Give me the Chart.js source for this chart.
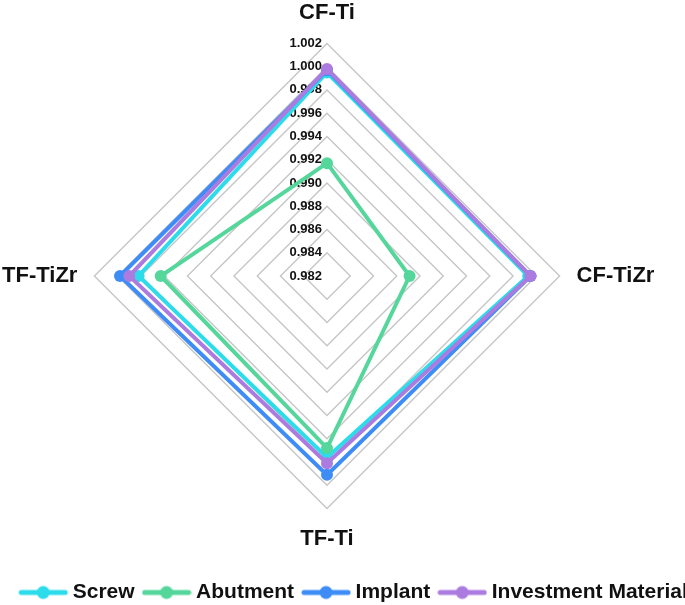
<!DOCTYPE html>
<html>
<head>
<meta charset="utf-8">
<script src="https://cdn.jsdelivr.net/npm/chart.js@4.4.1/dist/chart.umd.min.js"></script>
<style>
  html, body { margin: 0; padding: 0; background: #fff; }
  #wrap { width: 685px; height: 605px; }
</style>
</head>
<body>
<div id="wrap"><canvas id="radar-chart"></canvas></div>
<script>
const axes = ["CF-Ti", "CF-TiZr", "TF-Ti", "TF-TiZr"];
const screw = [0.9995, 0.9993, 0.9976, 0.9982];
const abutment = [0.9917, 0.9891, 0.9968, 0.9963];
const implant = [0.9997, 0.9995, 0.9991, 0.9998];
const investment = [0.9998, 0.9995, 0.9981, 0.9990];
const tickValues = [0.982, 0.984, 0.986, 0.988, 0.990, 0.992, 0.994, 0.996, 0.998, 1.000, 1.002];

const colors = ["#2ddcea", "#55d69b", "#3e8cf6", "#ac7be0"];
const font = "'Liberation Sans', Arial, sans-serif";

// little line + dot symbol for the legend
function legendIcon(color) {
  const c = document.createElement("canvas");
  c.width = 50; c.height = 16;
  const ctx = c.getContext("2d");
  ctx.strokeStyle = color;
  ctx.lineWidth = 5;
  ctx.lineCap = "round";
  ctx.beginPath(); ctx.moveTo(3, 8); ctx.lineTo(47, 8); ctx.stroke();
  ctx.fillStyle = color;
  ctx.beginPath(); ctx.arc(25, 8, 6.5, 0, Math.PI * 2); ctx.fill();
  return c;
}
const icons = colors.map(legendIcon);

// tick labels sit left of the vertical axis, under the lines
const tickLabels = {
  id: "tickLabels",
  beforeDatasetsDraw(chart) {
    const r = chart.scales.r;
    const ctx = chart.ctx;
    ctx.save();
    ctx.font = "bold 13px " + font;
    ctx.fillStyle = "#111";
    ctx.textAlign = "right";
    ctx.textBaseline = "middle";
    tickValues.forEach(v => {
      const d = r.getDistanceFromCenterForValue(v);
      ctx.fillText(v.toFixed(3), r.xCenter - 5, r.yCenter - d);
    });
    ctx.restore();
  }
};

// nudge the legend row like the original
const legendShift = {
  id: "legendShift",
  afterLayout(chart) {
    const lg = chart.legend;
    lg.left += 43; lg.right += 43;
    lg.top += 16; lg.bottom += 16;
  }
};

function series(label, data, i) {
  return {
    label: label,
    data: data,
    borderColor: colors[i],
    backgroundColor: colors[i],
    pointBackgroundColor: colors[i],
    pointBorderWidth: 0,
    pointRadius: 6,
    borderWidth: 4,
    fill: false,
    order: 3 - i
  };
}

new Chart(document.getElementById("radar-chart"), {
  type: "radar",
  data: {
    labels: axes,
    datasets: [
      series("Screw", screw, 0),
      series("Abutment", abutment, 1),
      series("Implant", implant, 2),
      series("Investment Material", investment, 3)
    ]
  },
  options: {
    responsive: true,
    maintainAspectRatio: false,
    animation: false,
    layout: { padding: { left: -32, right: 27, top: -2, bottom: 8 } },
    scales: {
      r: {
        min: 0.982,
        max: 1.002,
        ticks: { display: false, stepSize: 0.002 },
        grid: { color: "#c6c6c6", lineWidth: 1.4 },
        angleLines: { display: false },
        pointLabels: {
          padding: 17,
          color: "#111",
          font: { family: font, size: 22, weight: "bold" }
        }
      }
    },
    plugins: {
      tooltip: { enabled: false },
      legend: {
        position: "bottom",
        labels: {
          usePointStyle: true,
          pointStyleWidth: 38,
          padding: 13,
          color: "#111",
          font: { family: font, size: 21, weight: "bold" },
          generateLabels(chart) {
            const items = Chart.defaults.plugins.legend.labels.generateLabels(chart);
            items.forEach(it => { it.pointStyle = icons[it.datasetIndex]; });
            return items.sort((a, b) => a.datasetIndex - b.datasetIndex);
          }
        }
      }
    }
  },
  plugins: [tickLabels, legendShift]
});
</script>
</body>
</html>
